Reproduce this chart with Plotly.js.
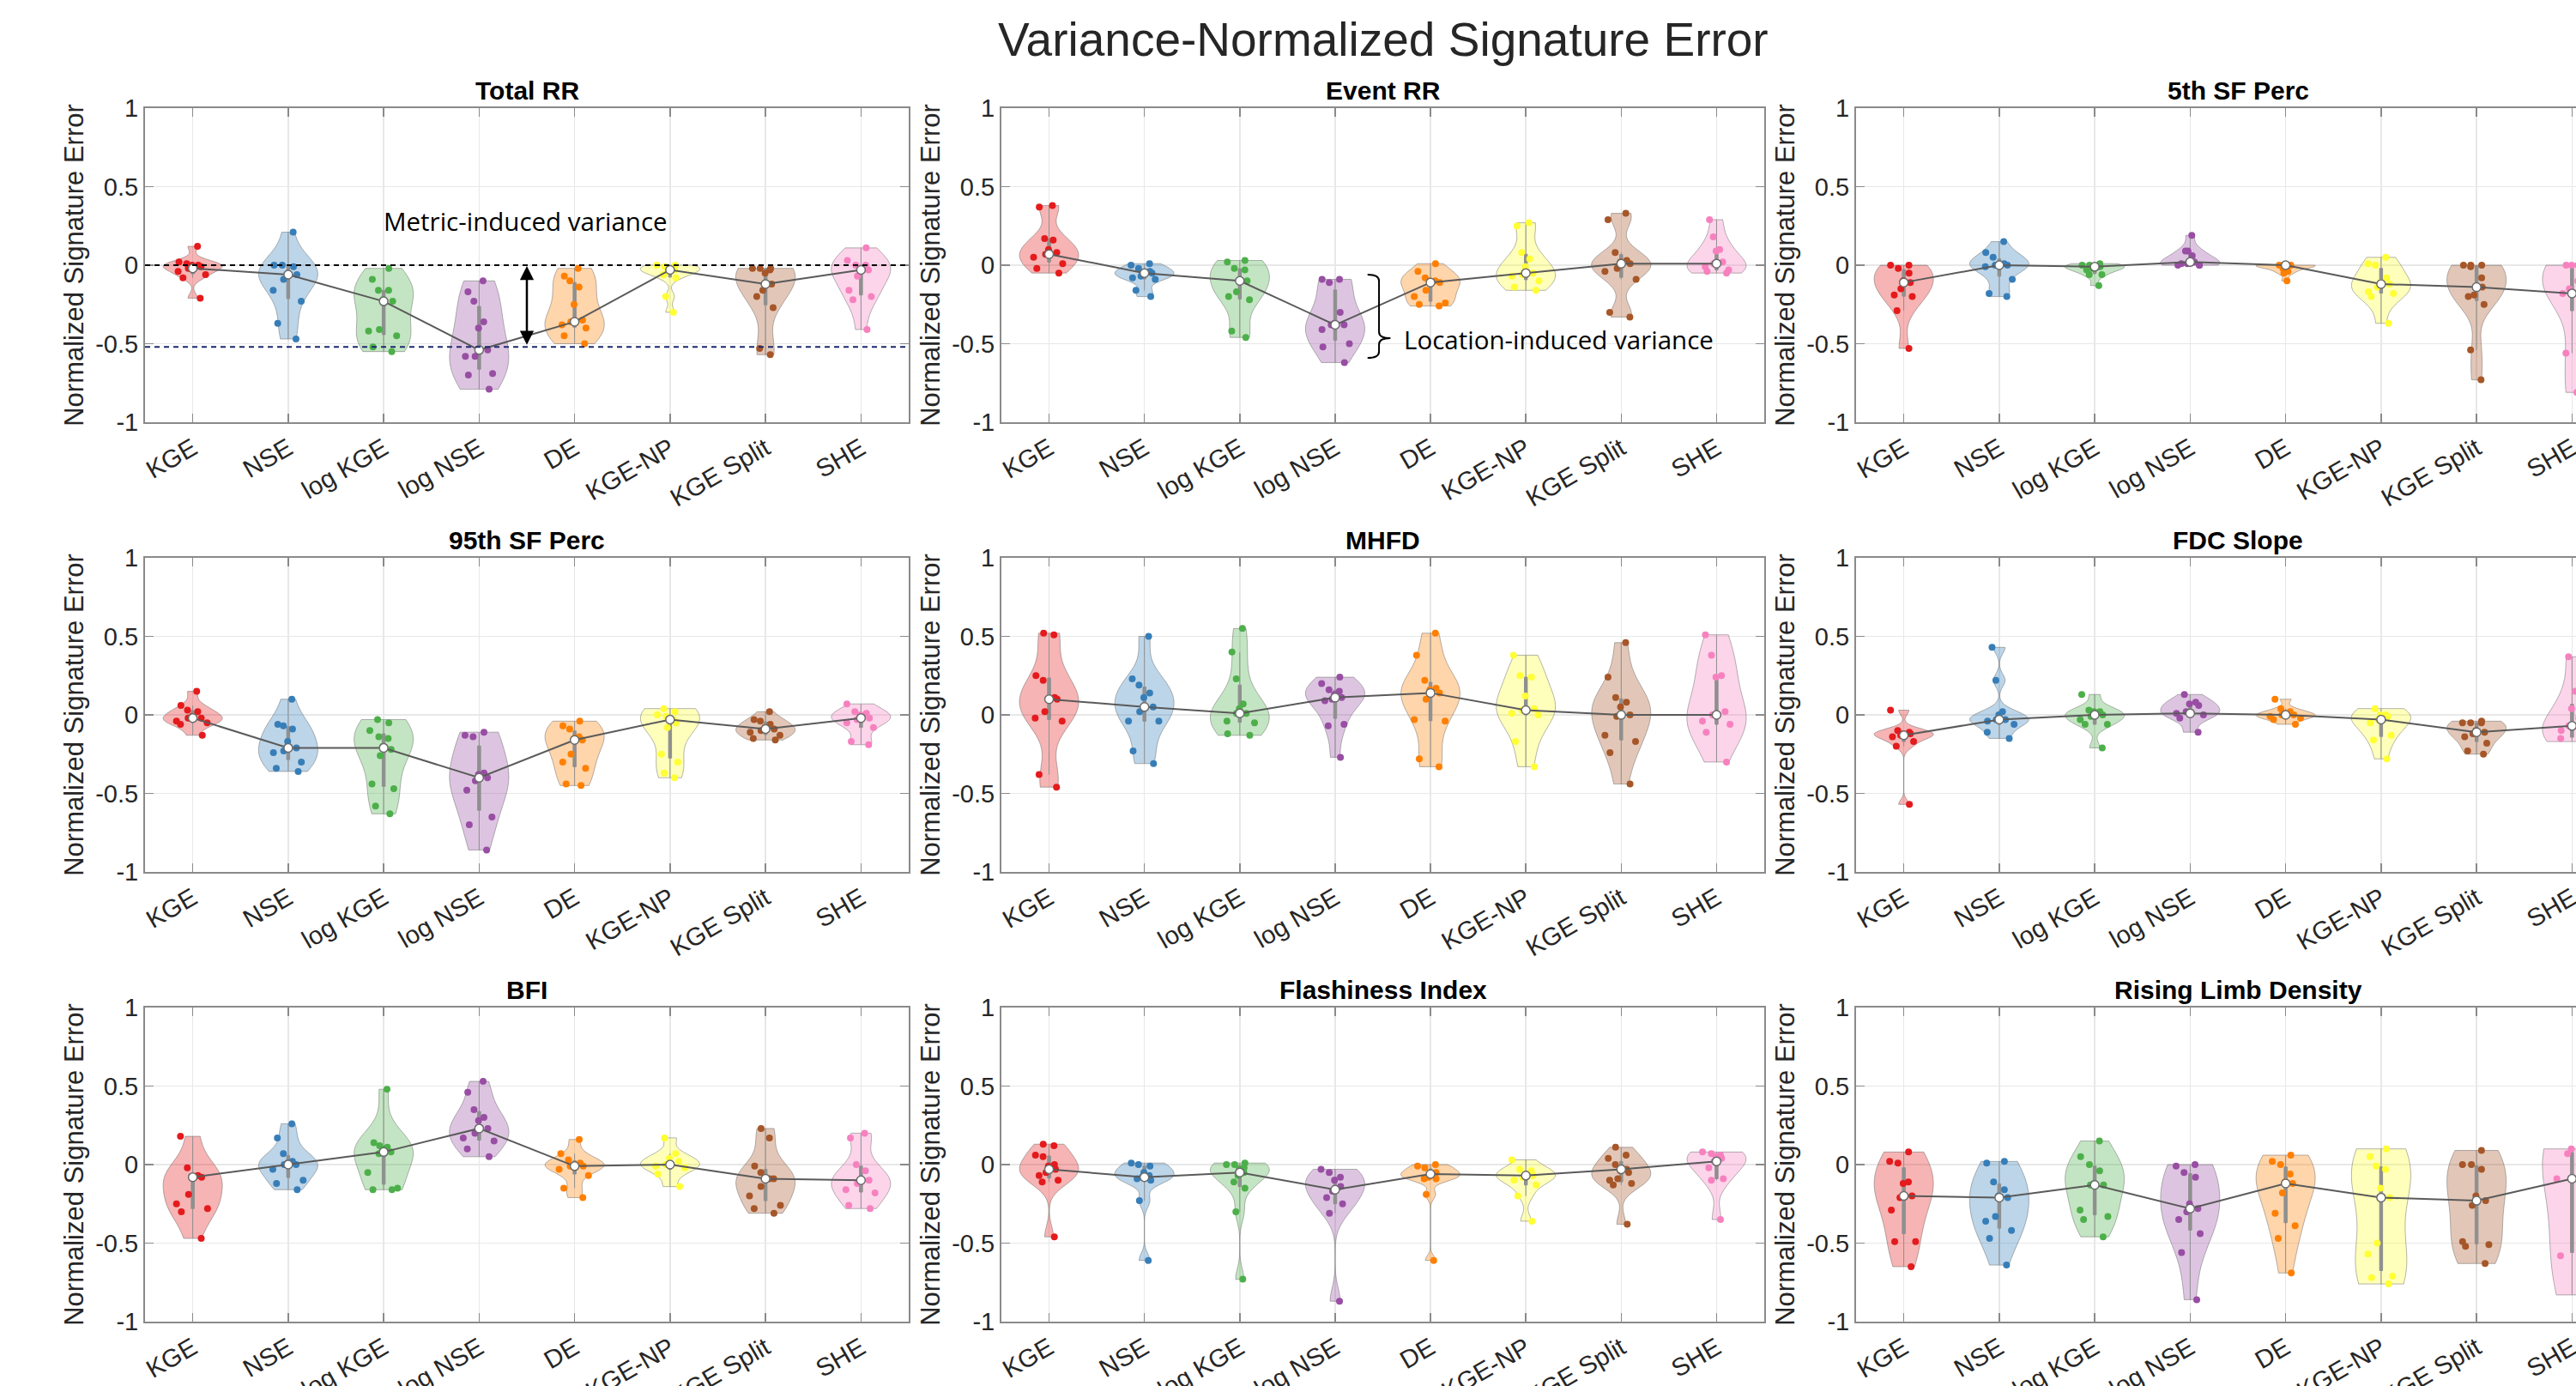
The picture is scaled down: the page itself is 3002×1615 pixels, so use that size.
<!DOCTYPE html>
<html>
<head>
<meta charset="utf-8">
<script src="https://cdn.plot.ly/plotly-3.0.1.min.js"></script>
<style>
  html, body { margin: 0; padding: 0; background: #ffffff; }
  #wrap { width: 3002px; height: 1615px; overflow: hidden; position: relative; }
  #plot { width: 3060px; height: 1615px; }
</style>
</head>
<body>
<div id="wrap"><div id="plot"></div></div>
<script>
// ---------------- DATA ----------------
const categories = ['KGE', 'NSE', 'log KGE', 'log NSE', 'DE', 'KGE-NP', 'KGE Split', 'SHE'];
const panelTitles = ['Total RR', 'Event RR', '5th SF Perc', '95th SF Perc', 'MHFD', 'FDC Slope', 'BFI', 'Flashiness Index', 'Rising Limb Density'];
const yTickVals = [-1, -0.5, 0, 0.5, 1];
const yTickText = ['-1', '-0.5', '0', '0.5', '1'];

const totalRR = [
  [0.12, 0.02, 0.01, 0.0, 0.0, -0.01, -0.02, -0.04, -0.06, -0.08, -0.21],
  [0.21, 0.0, 0.0, -0.01, -0.06, -0.06, -0.09, -0.16, -0.23, -0.37, -0.47],
  [-0.02, -0.09, -0.16, -0.16, -0.22, -0.23, -0.41, -0.42, -0.45, -0.52, -0.55],
  [-0.1, -0.17, -0.23, -0.36, -0.4, -0.54, -0.58, -0.58, -0.69, -0.7, -0.79],
  [-0.02, -0.07, -0.1, -0.14, -0.25, -0.35, -0.36, -0.38, -0.4, -0.45, -0.5],
  [0.0, 0.0, -0.01, -0.02, -0.03, -0.03, -0.04, -0.06, -0.08, -0.2, -0.3],
  [-0.02, -0.02, -0.02, -0.03, -0.05, -0.12, -0.16, -0.2, -0.27, -0.53, -0.57],
  [0.11, 0.03, 0.0, 0.0, -0.02, -0.03, -0.07, -0.16, -0.2, -0.22, -0.41]
];
const totalRRMed = [-0.02, -0.06, -0.23, -0.54, -0.36, -0.03, -0.12, -0.03];

const eventRR = [
  [0.38, 0.37, 0.17, 0.16, 0.1, 0.08, 0.07, 0.05, 0.01, -0.02, -0.05],
  [0.01, 0.0, -0.02, -0.04, -0.05, -0.05, -0.07, -0.08, -0.09, -0.16, -0.2],
  [0.03, 0.02, -0.02, -0.03, -0.1, -0.1, -0.17, -0.2, -0.22, -0.42, -0.46],
  [-0.09, -0.09, -0.11, -0.3, -0.37, -0.38, -0.38, -0.41, -0.5, -0.52, -0.62],
  [0.01, -0.04, -0.08, -0.1, -0.1, -0.11, -0.16, -0.2, -0.24, -0.25, -0.26],
  [0.27, 0.25, 0.08, 0.04, -0.01, -0.05, -0.06, -0.07, -0.1, -0.14, -0.16],
  [0.33, 0.29, 0.08, 0.03, 0.02, 0.01, -0.02, -0.04, -0.09, -0.3, -0.33],
  [0.29, 0.18, 0.1, 0.09, 0.02, 0.01, -0.01, -0.03, -0.04, -0.05]
];
const eventRRMed = [0.07, -0.05, -0.1, -0.38, -0.11, -0.05, 0.01, 0.01];

const sf5 = [
  [0.0, 0.0, -0.02, -0.05, -0.1, -0.11, -0.15, -0.19, -0.2, -0.29, -0.53],
  [0.15, 0.08, 0.05, 0.01, 0.0, 0.0, 0.0, -0.01, -0.09, -0.18, -0.2],
  [0.01, 0.0, 0.0, -0.01, -0.01, -0.01, -0.02, -0.03, -0.06, -0.06, -0.13],
  [0.19, 0.09, 0.09, 0.06, 0.02, 0.02, 0.01, 0.01, 0.0, 0.0, 0.0],
  [0.0, 0.0, 0.0, 0.0, 0.0, 0.0, -0.01, -0.02, -0.04, -0.05, -0.1],
  [0.05, 0.01, 0.0, -0.08, -0.11, -0.12, -0.14, -0.17, -0.18, -0.2, -0.37],
  [0.0, 0.0, 0.0, -0.01, -0.08, -0.14, -0.14, -0.19, -0.2, -0.25, -0.54, -0.73],
  [0.0, 0.0, 0.0, -0.1, -0.15, -0.18, -0.2, -0.56, -0.81]
];
const sf5Med = [-0.11, 0.0, -0.01, 0.02, 0.0, -0.12, -0.14, -0.18];

const sf95 = [
  [0.15, 0.06, 0.03, 0.02, -0.01, -0.02, -0.02, -0.04, -0.05, -0.06, -0.13],
  [0.1, -0.06, -0.07, -0.09, -0.17, -0.21, -0.23, -0.24, -0.3, -0.34, -0.36],
  [-0.03, -0.05, -0.1, -0.14, -0.15, -0.2, -0.22, -0.26, -0.44, -0.47, -0.58, -0.63],
  [-0.11, -0.13, -0.14, -0.37, -0.38, -0.4, -0.42, -0.48, -0.65, -0.7, -0.86],
  [-0.04, -0.07, -0.09, -0.14, -0.15, -0.16, -0.25, -0.3, -0.34, -0.44, -0.45],
  [0.04, 0.02, 0.0, -0.01, -0.03, -0.03, -0.05, -0.08, -0.25, -0.3, -0.37, -0.4],
  [0.02, -0.03, -0.04, -0.06, -0.08, -0.09, -0.1, -0.11, -0.13, -0.15, -0.16],
  [0.07, 0.02, 0.01, 0.0, -0.02, -0.03, -0.05, -0.08, -0.17, -0.19]
];
const sf95Med = [-0.02, -0.21, -0.21, -0.4, -0.16, -0.03, -0.09, -0.02];

const mhfd = [
  [0.52, 0.51, 0.25, 0.22, 0.11, 0.1, 0.1, 0.02, -0.02, -0.04, -0.38, -0.46],
  [0.5, 0.23, 0.19, 0.14, 0.11, 0.05, 0.02, -0.04, -0.04, -0.23, -0.31],
  [0.55, 0.4, 0.23, 0.07, 0.04, 0.01, 0.01, -0.04, -0.05, -0.12, -0.13],
  [0.24, 0.2, 0.16, 0.15, 0.13, 0.11, 0.1, 0.09, -0.06, -0.07, -0.27],
  [0.52, 0.38, 0.22, 0.17, 0.16, 0.14, 0.1, -0.03, -0.04, -0.28, -0.33],
  [0.38, 0.25, 0.24, 0.12, 0.04, 0.03, 0.01, 0.0, -0.17, -0.33],
  [0.46, 0.24, 0.11, 0.08, 0.05, 0.0, -0.01, -0.13, -0.17, -0.24, -0.44],
  [0.51, 0.38, 0.25, 0.24, 0.02, 0.0, -0.04, -0.06, -0.11, -0.3]
];
const mhfdMed = [0.1, 0.05, 0.01, 0.11, 0.14, 0.03, 0.0, 0.0];

const fdcSlope = [
  [0.03, -0.1, -0.11, -0.12, -0.12, -0.13, -0.14, -0.17, -0.2, -0.57],
  [0.43, 0.22, 0.02, 0.0, -0.03, -0.03, -0.04, -0.06, -0.11, -0.15],
  [0.13, 0.03, 0.02, 0.02, 0.0, -0.01, -0.03, -0.06, -0.06, -0.21],
  [0.13, 0.08, 0.07, 0.06, 0.02, 0.01, 0.0, -0.02, -0.11],
  [0.1, 0.04, 0.02, 0.01, 0.0, 0.0, -0.01, -0.02, -0.03, -0.06],
  [0.04, 0.0, 0.0, -0.01, -0.03, -0.05, -0.13, -0.16, -0.28],
  [-0.04, -0.05, -0.05, -0.05, -0.1, -0.11, -0.12, -0.14, -0.18, -0.23, -0.25],
  [0.37, 0.15, 0.04, -0.02, -0.07, -0.1, -0.14, -0.15, -0.17]
];
const fdcSlopeMed = [-0.13, -0.03, 0.0, 0.01, 0.0, -0.03, -0.11, -0.07];

const bfi = [
  [0.18, -0.02, -0.07, -0.08, -0.08, -0.19, -0.25, -0.28, -0.3, -0.47],
  [0.26, 0.17, 0.07, 0.02, 0.01, 0.0, 0.0, -0.03, -0.1, -0.12, -0.16],
  [0.48, 0.14, 0.12, 0.11, 0.1, 0.08, 0.07, -0.05, -0.15, -0.16, -0.16],
  [0.53, 0.46, 0.35, 0.3, 0.28, 0.23, 0.2, 0.17, 0.15, 0.1, 0.05],
  [0.16, 0.07, 0.03, 0.01, 0.0, -0.01, -0.01, -0.03, -0.07, -0.15, -0.21],
  [0.17, 0.07, 0.04, 0.02, 0.0, -0.01, -0.02, -0.06, -0.14],
  [0.23, 0.17, -0.01, -0.05, -0.09, -0.09, -0.09, -0.14, -0.2, -0.26, -0.28, -0.31],
  [0.2, 0.17, 0.0, -0.04, -0.1, -0.1, -0.12, -0.16, -0.18, -0.26, -0.28]
];
const bfiMed = [-0.08, 0.0, 0.08, 0.23, -0.01, 0.0, -0.09, -0.1];

const flashiness = [
  [0.13, 0.12, 0.06, 0.05, 0.0, -0.01, -0.03, -0.05, -0.07, -0.1, -0.11, -0.46],
  [0.01, 0.0, -0.01, -0.05, -0.07, -0.08, -0.09, -0.1, -0.23, -0.61],
  [0.01, 0.0, 0.0, -0.02, -0.03, -0.05, -0.07, -0.11, -0.15, -0.3, -0.73],
  [-0.03, -0.05, -0.08, -0.1, -0.14, -0.17, -0.21, -0.25, -0.31, -0.87],
  [0.0, -0.01, -0.02, -0.05, -0.06, -0.06, -0.08, -0.09, -0.09, -0.19, -0.61],
  [0.03, -0.03, -0.04, -0.06, -0.07, -0.08, -0.1, -0.13, -0.2, -0.36],
  [0.11, 0.06, 0.04, 0.0, -0.03, -0.04, -0.05, -0.09, -0.1, -0.12, -0.13, -0.38],
  [0.08, 0.07, 0.06, 0.05, 0.04, 0.02, -0.02, -0.09, -0.1, -0.35]
];
const flashinessMed = [-0.03, -0.08, -0.05, -0.16, -0.06, -0.07, -0.03, 0.02];

const risingLimb = [
  [0.08, 0.02, 0.01, -0.11, -0.12, -0.2, -0.21, -0.29, -0.49, -0.49, -0.65],
  [0.02, 0.01, -0.11, -0.16, -0.2, -0.21, -0.33, -0.36, -0.42, -0.47, -0.64],
  [0.15, 0.05, 0.0, -0.04, -0.12, -0.13, -0.13, -0.29, -0.33, -0.35, -0.46],
  [0.0, -0.01, -0.05, -0.08, -0.25, -0.28, -0.3, -0.35, -0.44, -0.56, -0.86],
  [0.06, 0.02, 0.0, -0.06, -0.11, -0.12, -0.18, -0.31, -0.39, -0.47, -0.69],
  [0.1, 0.05, -0.01, -0.03, -0.15, -0.21, -0.5, -0.57, -0.71, -0.72, -0.76],
  [0.09, 0.0, 0.0, -0.03, -0.2, -0.23, -0.26, -0.49, -0.51, -0.52, -0.63],
  [0.1, 0.08, 0.07, -0.09, -0.5, -0.58, -0.83]
];
const risingLimbMed = [-0.2, -0.21, -0.13, -0.28, -0.12, -0.21, -0.23, -0.09];

const panelData = [totalRR, eventRR, sf5, sf95, mhfd, fdcSlope, bfi, flashiness, risingLimb];
const panelMed = [totalRRMed, eventRRMed, sf5Med, sf95Med, mhfdMed, fdcSlopeMed, bfiMed, flashinessMed, risingLimbMed];

const colors = [[228,26,28],[55,126,184],[77,175,74],[152,78,163],[255,127,0],[255,255,51],[166,86,40],[247,129,191]];

// ---------------- LAYOUT GEOMETRY (pixels) ----------------
const W = 3060, H = 1615;
const colPx = [[169, 1059], [1167, 2056], [2163, 3053]];
const rowPx = [[126, 492], [650, 1016], [1174, 1540]];
const fx = p => p / W;
const fy = p => 1 - p / H;

const AXCOL = '#8a8a8a';
const TXT = '#262626';
const FONT = 'Liberation Sans, Arial, Helvetica, sans-serif';
const NOTEFONT = 'Open Sans, Noto Sans, sans-serif';
const positions = categories.map((c, i) => i + 1);

const traces = [];
const layout = {
  width: W, height: H,
  margin: {l: 0, r: 0, t: 0, b: 0},
  paper_bgcolor: '#ffffff', plot_bgcolor: '#ffffff',
  showlegend: false,
  violinmode: 'overlay',
  font: {family: FONT, color: TXT},
  annotations: [], shapes: []
};

for (let p = 0; p < 9; p++) {
  const r = Math.floor(p / 3), c = p % 3;
  const sfx = p === 0 ? '' : String(p + 1);
  const xa = 'x' + sfx, ya = 'y' + sfx;
  layout['xaxis' + sfx] = {
    domain: [fx(colPx[c][0]), fx(colPx[c][1])],
    anchor: ya,
    range: [0.5, 8.5],
    tickmode: 'array', tickvals: positions, ticktext: categories,
    tickangle: -30,
    ticks: 'inside', ticklen: 10, tickwidth: 1.5, tickcolor: AXCOL,
    showline: true, linecolor: AXCOL, linewidth: 2, mirror: 'ticks',
    showgrid: true, gridcolor: '#e8e8e8', gridwidth: 1.5,
    zeroline: false,
    tickfont: {family: FONT, size: 29.5, color: TXT},
    fixedrange: true
  };
  layout['yaxis' + sfx] = {
    domain: [fy(rowPx[r][1]), fy(rowPx[r][0])],
    anchor: xa,
    range: [-1, 1],
    tickmode: 'array', tickvals: yTickVals, ticktext: yTickText,
    ticks: 'inside', ticklen: 10, tickwidth: 1.5, tickcolor: AXCOL,
    showline: true, linecolor: AXCOL, linewidth: 2, mirror: 'ticks',
    showgrid: true, gridcolor: '#e8e8e8', gridwidth: 1.5,
    zeroline: false,
    tickfont: {family: FONT, size: 29, color: TXT},
    title: {text: 'Normalized Signature Error', font: {family: FONT, size: 31, color: TXT}, standoff: 4},
    fixedrange: true
  };
  // panel title
  layout.annotations.push({
    xref: 'paper', yref: 'paper',
    x: fx((colPx[c][0] + colPx[c][1]) / 2), y: fy(rowPx[r][0] - 2),
    xanchor: 'center', yanchor: 'bottom',
    text: '<b>' + panelTitles[p] + '</b>', showarrow: false,
    font: {family: FONT, size: 30, color: '#000000'}
  });

  const data = panelData[p];
  for (let k = 0; k < categories.length; k++) {
    const col = colors[k];
    const vals = data[k];
    traces.push({
      type: 'violin',
      x: vals.map(() => positions[k]),
      y: vals,
      xaxis: xa, yaxis: ya,
      orientation: 'v',
      width: 0.62, scalemode: 'width', spanmode: 'hard',
      fillcolor: 'rgba(' + col.join(',') + ',0.33)',
      line: {color: 'rgba(90,90,90,0.45)', width: 1},
      points: 'all', jitter: 0.65, pointpos: 0,
      marker: {color: 'rgb(' + col.join(',') + ')', size: 8, line: {width: 0}},
      box: {visible: true, width: 0.05, fillcolor: '#8f8f8f', line: {color: '#8f8f8f', width: 1}},
      meanline: {visible: false},
      hoverinfo: 'skip', showlegend: false
    });
  }
  traces.push({
    type: 'scatter', mode: 'lines+markers',
    x: positions, y: panelMed[p],
    xaxis: xa, yaxis: ya,
    line: {color: '#5a5a5a', width: 2},
    marker: {color: '#ffffff', size: 10, line: {color: '#6a6a6a', width: 1.5}},
    hoverinfo: 'skip', showlegend: false
  });
}

// main title
layout.annotations.push({
  xref: 'paper', yref: 'paper', x: fx(1612), y: fy(13),
  xanchor: 'center', yanchor: 'top', showarrow: false,
  text: 'Variance-Normalized Signature Error',
  font: {family: FONT, size: 55, color: TXT}
});

// Total RR annotations
layout.shapes.push({type: 'line', xref: 'x', yref: 'y', x0: 0.5, x1: 8.5, y0: 0, y1: 0,
  line: {color: '#000000', width: 2, dash: '6px,5px'}});
layout.shapes.push({type: 'line', xref: 'x', yref: 'y', x0: 0.5, x1: 8.5, y0: -0.52, y1: -0.52,
  line: {color: '#1b2a6e', width: 2, dash: '6px,5px'}});
layout.annotations.push({
  xref: 'x', yref: 'y', x: 4.5, y: -0.005, axref: 'x', ayref: 'y', ax: 4.5, ay: -0.515,
  showarrow: true, arrowhead: 2, startarrowhead: 2, arrowside: 'end+start',
  arrowsize: 1.3, startarrowsize: 1.3, arrowwidth: 2.5, arrowcolor: '#000000', text: ''
});
layout.annotations.push({
  xref: 'x', yref: 'y', x: 4.49, y: 0.28, xanchor: 'center', yanchor: 'middle', showarrow: false,
  text: 'Metric-induced variance', font: {family: NOTEFONT, size: 29.5, color: '#000000'}
});

// Event RR bracket
layout.shapes.push({type: 'path', xref: 'x2', yref: 'y2',
  path: 'M4.34,-0.06 Q4.46,-0.06 4.46,-0.1 L4.46,-0.425 Q4.46,-0.465 4.58,-0.465 Q4.46,-0.465 4.46,-0.505 L4.46,-0.55 Q4.46,-0.59 4.34,-0.59',
  line: {color: '#000000', width: 2}});
layout.annotations.push({
  xref: 'x2', yref: 'y2', x: 4.70, y: -0.47, xanchor: 'left', yanchor: 'middle', showarrow: false,
  text: 'Location-induced variance', font: {family: NOTEFONT, size: 29.5, color: '#000000'}
});

Plotly.newPlot('plot', traces, layout, {staticPlot: true, displayModeBar: false});
</script>
</body>
</html>
